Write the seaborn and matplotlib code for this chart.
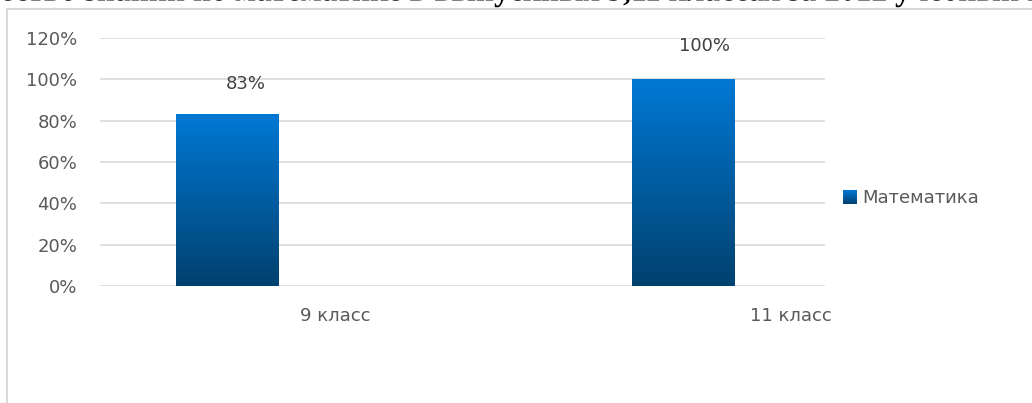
import numpy as np
import pandas as pd
import matplotlib
matplotlib.use("Agg")
import matplotlib.pyplot as plt
import matplotlib.transforms as mtransforms
from matplotlib.colors import LinearSegmentedColormap
from matplotlib.lines import Line2D
from matplotlib.textpath import TextPath
from matplotlib.font_manager import FontProperties
from matplotlib.patches import PathPatch
import seaborn as sns

# data
categories = ["9 класс", "11 класс"]
values = [0.83, 1.00]
value_labels = ["83%", "100%"]
series_name = "Математика"
title = "Качество знаний по математике в выпускных 9,11 классах за 2012 учебный год"

sns.set_style("white")
plt.rcParams["font.family"] = ["DejaVu Sans"]

fig = plt.figure(figsize=(10.32, 4.03), dpi=100)
ax = fig.add_axes([100 / 1032, 1 - 286 / 403, 725 / 1032, 248 / 403])

df = pd.DataFrame({"cat": categories, "val": values})
sns.barplot(data=df, x="cat", y="val", ax=ax, width=0.224, color="#0078D4",
            saturation=1)

# gradient fill for the bars
cmap = LinearSegmentedColormap.from_list("blue", ["#00416E", "#0078D4"])
grad = np.linspace(0, 1, 256).reshape(-1, 1)
for p in ax.patches:
    x0, y0 = p.get_x(), p.get_y()
    w, h = p.get_width(), p.get_height()
    im = ax.imshow(grad, cmap=cmap, origin="lower", aspect="auto",
                   extent=[x0, x0 + w, y0, y0 + h], zorder=3)
    im.set_clip_path(p)
    p.set_facecolor("none")
    p.set_edgecolor("none")

ax.set_xlim(-127 / 456, 598 / 456)
ax.set_ylim(0, 1.2)
ax.set_yticks(np.arange(0, 1.21, 0.2))
ax.set_yticklabels([f"{int(round(v * 100))}%" for v in np.arange(0, 1.21, 0.2)])
ax.grid(axis="y", color="#D9D9D9", linewidth=1.2)
ax.set_axisbelow(True)
for s in ax.spines.values():
    s.set_visible(False)
ax.tick_params(axis="y", length=0, pad=16.5, labelsize=13, labelcolor="#595959")
ax.tick_params(axis="x", length=0, pad=15, labelsize=13, labelcolor="#595959")
ax.set_xlabel("")
ax.set_ylabel("")

# category labels sit to the right of the bars
offset = mtransforms.ScaledTranslation(108 / 100, 0, fig.dpi_scale_trans)
for lab in ax.get_xticklabels():
    lab.set_transform(lab.get_transform() + offset)

# value labels
label_offsets = [(13.7, 21.6), (15.8, 23.8)]
for i, (v, t) in enumerate(zip(values, value_labels)):
    ax.annotate(t, (i, v), xytext=label_offsets[i], textcoords="offset points",
                ha="center", va="center", fontsize=13, color="#404040")

# legend: gradient square + text
lax = fig.add_axes([843 / 1032, 1 - 204 / 403, 14 / 1032, 14 / 403])
lax.imshow(grad, cmap=cmap, origin="lower", aspect="auto")
lax.axis("off")
fig.text(862 / 1032, 1 - 198 / 403, series_name, fontsize=13, color="#595959",
         va="center", ha="left")

# chart frame
fig.add_artist(Line2D([7 / 1032, 7 / 1032], [0, 1 - 9 / 403],
                      transform=fig.transFigure, color="#D9D9D9", lw=1.5))
fig.add_artist(Line2D([7 / 1032, 1], [1 - 9 / 403, 1 - 9 / 403],
                      transform=fig.transFigure, color="#D9D9D9", lw=1.5))

# title, cut off by the top edge (drawn as a path so the crop is clean)
fp = FontProperties(family="Liberation Serif", weight="bold")
tsize = 31.5  # pixels
pre_w = TextPath((0, 0), "Кач", size=tsize, prop=fp).get_extents().xmax + 1
tpath = TextPath((0, 0), title, size=tsize, prop=fp)
tr = mtransforms.Affine2D().translate(-pre_w, 403 - 0.5) + mtransforms.IdentityTransform()
fig.add_artist(PathPatch(tpath, transform=tr, facecolor="black",
                         edgecolor="none"))

fig.savefig("out.png", dpi=100)
